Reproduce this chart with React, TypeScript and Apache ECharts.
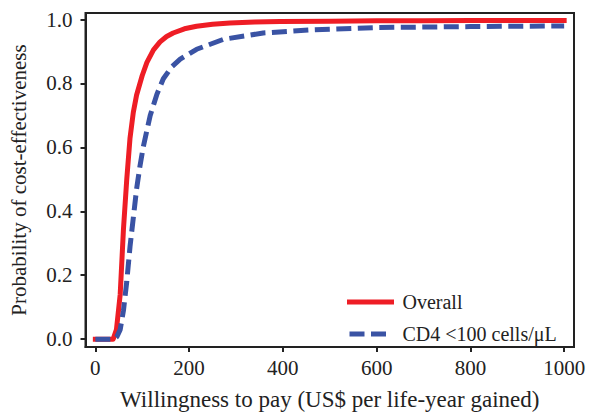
import React, { useEffect, useRef } from "react";
import * as echarts from "echarts";

const overallX = [0, 38, 45, 53, 60, 67, 74, 81, 88, 100, 110, 124, 138, 152, 166, 190, 216, 250, 287, 340, 394, 500, 600, 700, 800, 900, 1000];
const overallY = [0, 0, 0.03, 0.14, 0.345, 0.5, 0.63, 0.71, 0.764, 0.825, 0.866, 0.905, 0.93, 0.947, 0.958, 0.971, 0.979, 0.985, 0.989, 0.992, 0.994, 0.995, 0.996, 0.996, 0.997, 0.997, 0.997];

const cd4X = [0, 40, 46, 53, 60, 67, 74, 81, 88, 95, 102, 117, 131, 145, 163, 181, 216, 273, 358, 465, 600, 800, 1000];
const cd4Y = [0, 0, 0.008, 0.03, 0.09, 0.18, 0.29, 0.38, 0.47, 0.54, 0.6, 0.7, 0.765, 0.815, 0.852, 0.876, 0.907, 0.938, 0.958, 0.968, 0.975, 0.978, 0.98];

const xTicks = [0, 200, 400, 600, 800, 1000];
const yTicks = [0, 0.2, 0.4, 0.6, 0.8, 1.0];

const seriesNames = ["Overall", "CD4 <100 cells/\u03bcL"];

const FONT = "Liberation Serif";
const DARK = "#222222";

export default function App() {
  const ref = useRef<HTMLDivElement>(null);
  useEffect(() => {
    if (!ref.current) return;
    const chart = echarts.init(ref.current, null, { renderer: "svg" });
    chart.setOption({
      animation: false,
      textStyle: { fontFamily: FONT },
      grid: {
        left: 85.5,
        top: 13,
        right: 15,
        bottom: 62,
        show: true,
        borderColor: DARK,
        borderWidth: 2,
        backgroundColor: "transparent",
      },
      legend: {
        orient: "vertical",
        left: 342,
        top: 287,
        itemWidth: 42,
        itemHeight: 14,
        itemGap: 12,
        itemStyle: { opacity: 0 },
        lineStyle: { width: 5 },
        textStyle: { fontFamily: FONT, fontSize: 20, color: DARK, padding: [0, 0, 0, 6] },
        data: seriesNames,
      },
      xAxis: {
        type: "value",
        min: -21,
        max: 1021,
        splitLine: { show: false },
        axisLine: { show: true, onZero: false, lineStyle: { color: DARK, width: 2 } },
        axisTick: { show: true, length: 5, lineStyle: { color: DARK, width: 2 }, customValues: xTicks },
        axisLabel: {
          customValues: xTicks,
          formatter: (v: number) => String(v),
          fontFamily: FONT,
          fontSize: 21,
          color: DARK,
          margin: 10,
        },
        name: "Willingness to pay (US$ per life-year gained)",
        nameLocation: "middle",
        nameGap: 41,
        nameTextStyle: { fontFamily: FONT, fontSize: 23, color: DARK },
      },
      yAxis: {
        type: "value",
        min: -0.0245,
        max: 1.0205,
        splitLine: { show: false },
        axisLine: { show: true, onZero: false, lineStyle: { color: DARK, width: 2 } },
        axisTick: { show: true, length: 5, lineStyle: { color: DARK, width: 2 }, customValues: yTicks },
        axisLabel: {
          customValues: yTicks,
          formatter: (v: number) => v.toFixed(1),
          fontFamily: FONT,
          fontSize: 21,
          color: DARK,
          margin: 13,
        },
        name: "Probability of cost-effectiveness",
        nameLocation: "middle",
        nameGap: 56,
        nameTextStyle: { fontFamily: FONT, fontSize: 21, color: DARK },
      },
      series: [
        {
          name: seriesNames[0],
          type: "line",
          symbol: "none",
          showSymbol: false,
          data: overallX.map((x, i) => [x, overallY[i]]),
          lineStyle: { color: "#ee1d25", width: 5, cap: "square", join: "round" },
          itemStyle: { color: "#ee1d25" },
          z: 2,
        },
        {
          name: seriesNames[1],
          type: "line",
          symbol: "none",
          showSymbol: false,
          data: cd4X.map((x, i) => [x, cd4Y[i]]),
          lineStyle: { color: "#3a53a4", width: 5, type: [15, 6.5], cap: "butt" },
          itemStyle: { color: "#3a53a4" },
          z: 3,
        },
      ],
    });
    return () => chart.dispose();
  }, []);
  return <div ref={ref} style={{ width: 589, height: 416, position: "absolute", left: 0, top: 0 }} />;
}
